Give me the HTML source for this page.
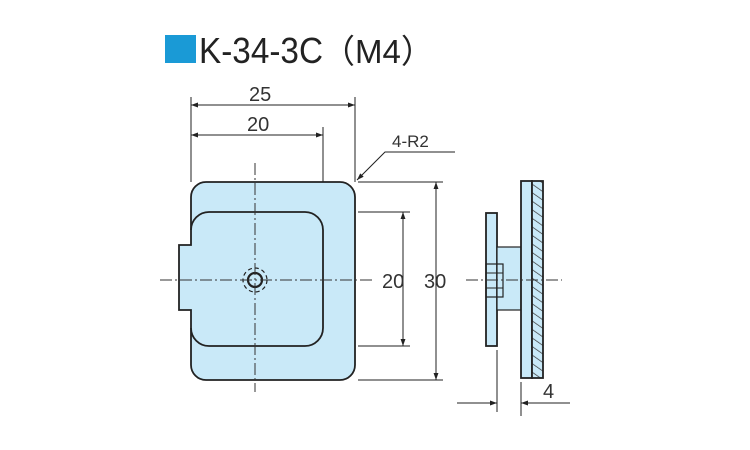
<!DOCTYPE html>
<html><head><meta charset="utf-8"><style>
body{margin:0;background:#fff;width:750px;height:450px;overflow:hidden}
svg{display:block}
</style></head><body>
<svg width="750" height="450" viewBox="0 0 750 450" xmlns="http://www.w3.org/2000/svg" font-family="Liberation Sans, sans-serif">
<defs>
<marker id="a" viewBox="0 0 10 10" refX="10" refY="5" markerWidth="9" markerHeight="7" orient="auto-start-reverse" markerUnits="userSpaceOnUse"><path d="M0,1.5L10,5L0,8.5z" fill="#222"/></marker>
<pattern id="h" width="7" height="7" patternUnits="userSpaceOnUse" patternTransform="rotate(-55)"><rect width="7" height="7" fill="#c9e9f8"/><line x1="0" y1="0" x2="0" y2="7" stroke="#333" stroke-width="1.4"/></pattern>
</defs>
<rect x="165" y="35" width="31" height="28" fill="#1a9ad6"/>
<text x="199" y="63" font-size="36" fill="#222" textLength="124" lengthAdjust="spacingAndGlyphs">K-34-3C</text>
<text x="322" y="63" font-size="33" fill="#222" font-family="Liberation Sans, Noto Sans CJK JP, sans-serif">（M4）</text>
<g stroke="#222" stroke-width="1.8" fill="#c9e9f8">
<path d="M206,182 H340 A15,15 0 0 1 355,197 V365 A15,15 0 0 1 340,380 H206 A15,15 0 0 1 191,365 V310 H179 V245 H191 V197 A15,15 0 0 1 206,182 Z"/>
<path d="M191,230 A18,18 0 0 1 209,212 H305 A18,18 0 0 1 323,230 V328 A18,18 0 0 1 305,346 H209 A18,18 0 0 1 191,328" fill="none"/>
<circle cx="255" cy="280" r="7" stroke-width="2.2"/>
<circle cx="255" cy="280" r="12" fill="none" stroke-width="1.2" stroke-dasharray="4 3"/>
<rect x="486" y="213" width="11" height="133"/>
<rect x="497" y="247" width="24" height="63" stroke-width="1.2"/>
<rect x="486" y="264" width="17" height="33" stroke-width="1.2" fill="none"/>
<line x1="486" y1="273" x2="503" y2="273" stroke-width="1"/><line x1="486" y1="288" x2="503" y2="288" stroke-width="1"/>
<rect x="521" y="181" width="11" height="197"/>
<rect x="532" y="181" width="11" height="197" fill="url(#h)"/>
</g>
<g stroke="#333" stroke-width="1" stroke-dasharray="12 3 2 3" fill="none">
<line x1="160" y1="280" x2="372" y2="280"/>
<line x1="255" y1="163" x2="255" y2="392"/>
<line x1="466" y1="280" x2="562" y2="280"/>
</g>
<g stroke="#222" stroke-width="1" fill="none">
<line x1="191" y1="97" x2="191" y2="182"/><line x1="355" y1="97" x2="355" y2="182"/><line x1="323" y1="127" x2="323" y2="182"/>
<line x1="191" y1="105" x2="355" y2="105" marker-start="url(#a)" marker-end="url(#a)"/>
<line x1="191" y1="135" x2="323" y2="135" marker-start="url(#a)" marker-end="url(#a)"/>
<line x1="358" y1="212" x2="410" y2="212"/><line x1="358" y1="346" x2="410" y2="346"/>
<line x1="358" y1="182" x2="443" y2="182"/><line x1="358" y1="380" x2="443" y2="380"/>
<line x1="403" y1="212" x2="403" y2="346" marker-start="url(#a)" marker-end="url(#a)"/>
<line x1="436" y1="182" x2="436" y2="380" marker-start="url(#a)" marker-end="url(#a)"/>
<polyline points="455,152 385,152 357,180" marker-end="url(#a)"/>
<line x1="497" y1="350" x2="497" y2="412"/><line x1="521" y1="382" x2="521" y2="416"/>
<line x1="457" y1="403" x2="497" y2="403" marker-end="url(#a)"/>
<line x1="570" y1="403" x2="521" y2="403" marker-end="url(#a)"/>
</g>
<g fill="#333" font-size="20">
<text x="249" y="101">25</text>
<text x="247" y="131">20</text>
<text x="382" y="288">20</text>
<text x="424" y="288">30</text>
<text x="392" y="147" font-size="17">4-R2</text>
<text x="543" y="398">4</text>
</g>
</svg>
</body></html>
